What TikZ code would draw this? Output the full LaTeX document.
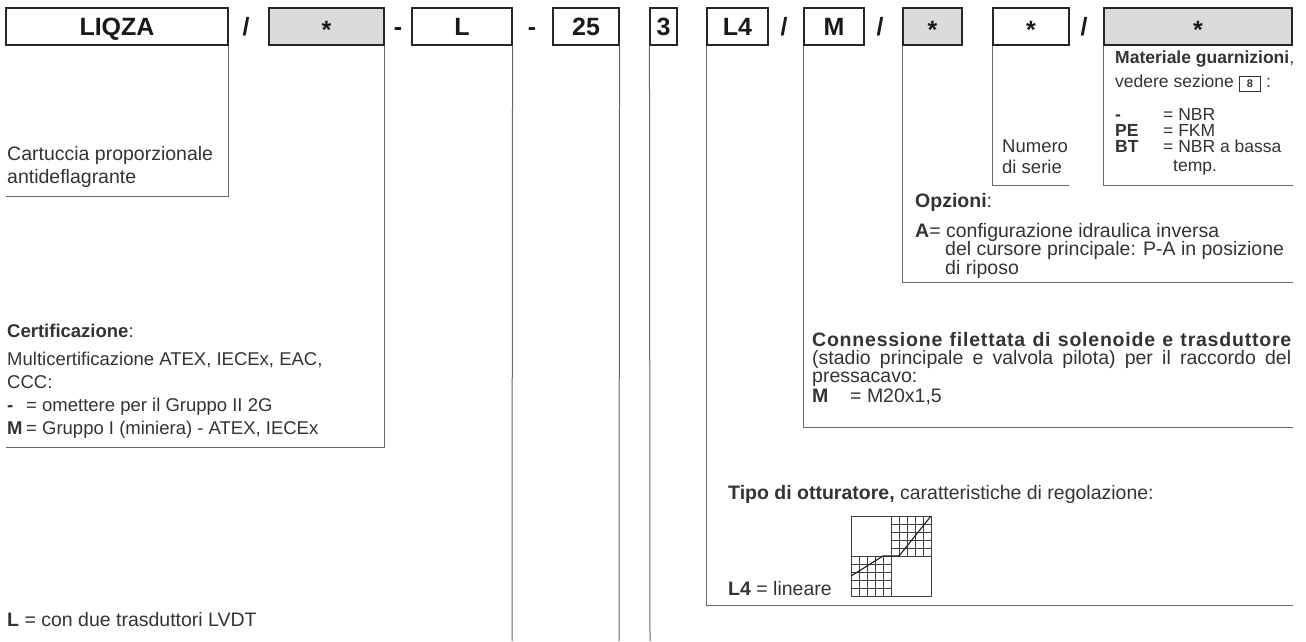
\documentclass[tikz,border=0pt]{standalone}
\usepackage{fontspec}
\setmainfont{Liberation Sans}
\usetikzlibrary{calc}

\begin{document}
\begin{tikzpicture}[
    x=1pt, y=-1pt,
    codebox/.style={rectangle, draw=black!85, line width=1.1pt, minimum height=37pt, inner sep=0pt, text height=17pt, text depth=0pt, font=\fontsize{25}{25}\selectfont\bfseries, text=black!90},
    optbox/.style={codebox, fill=black!14},
    slash/.style={inner sep=0pt, text height=17pt, text depth=0pt, font=\fontsize{25}{25}\selectfont\bfseries, text=black!90},
    leg/.style={draw=black!60, line width=1pt},
    desc/.style={anchor=base west, inner sep=0pt, align=left, text=black!80, font=\fontsize{19.5}{23}\selectfont},
    seal/.style={desc, font=\fontsize{17.5}{16}\selectfont},
    mesh/.style={draw=black!75, line width=0.6pt},
    trace/.style={draw=black!90, line width=1.1pt}
  ]
  \useasboundingbox (0,0) rectangle (1306,641);

  \node[codebox, minimum width=222pt] (liqza) at (117,26.5) {LIQZA};
  \node[slash] (sl1) at (246,26.5) {/};
  \node[optbox, minimum width=115pt] (cert) at (326.5,26.5) {\raisebox{-3pt}{*}};
  \node[slash] (sl2) at (398,26.5) {-};
  \node[codebox, minimum width=100pt] (sense) at (462,26.5) {L};
  \node[slash] (sl3) at (532,26.5) {-};
  \node[codebox, minimum width=66pt] (size) at (586,26.5) {25};
  \node[codebox, minimum width=27pt] (design) at (663.5,26.5) {3};
  \node[codebox, minimum width=61pt] (spool) at (737.5,26.5) {L4};
  \node[slash] (sl4) at (784,26.5) {/};
  \node[codebox, minimum width=60pt] (thread) at (834,26.5) {M};
  \node[slash] (sl5) at (880,26.5) {/};
  \node[optbox, minimum width=59pt] (opts) at (932.5,26.5) {\raisebox{-3pt}{*}};
  \node[codebox, minimum width=76pt] (serial) at (1031,26.5) {\raisebox{-3pt}{*}};
  \node[slash] (sl6) at (1084,26.5) {/};
  \node[optbox, minimum width=188pt] (seals) at (1198,26.5) {\raisebox{-3pt}{*}};

  \coordinate (liqzaEnd) at (6,196);
  \coordinate (certEnd) at (6,447);
  \coordinate (senseEnd) at (512,641);
  \coordinate (sizeEnd) at (619,641);
  \coordinate (designEnd) at (650,641);
  \coordinate (spoolEnd) at (1293,605);
  \coordinate (threadEnd) at (1293,427);
  \coordinate (optsEnd) at (1293,282);
  \coordinate (serialEnd) at (1069,185);
  \coordinate (sealsEnd) at (1293,185);

  \draw[leg] (liqza.south east) |- (liqzaEnd);
  \draw[leg] (cert.south east) |- (certEnd);
  \draw[leg] (sense.south east) -- (senseEnd);
  \draw[leg] (size.south east) -- (sizeEnd);
  \draw[leg] (design.south west) -- (designEnd);
  \draw[leg] (spool.south west) |- (spoolEnd);
  \draw[leg] (thread.south west) |- (threadEnd);
  \draw[leg] (opts.south west) |- (optsEnd);
  \draw[leg] (serial.south west) |- (serialEnd);
  \draw[leg] (seals.south west) |- (sealsEnd);

  \node[desc] (liqzaTxt) at (7,183) {Cartuccia proporzionale\\antideflagrante};
  \node[desc, font=\fontsize{18.5}{23}\selectfont] (certTxt) at (7,434) {\textbf{Certificazione}:\\[5pt]Multicertificazione ATEX, IECEx, EAC,\\CCC:\\\makebox[19pt][l]{\bfseries -}= omettere per il Gruppo II 2G\\\makebox[19pt][l]{\bfseries M}= Gruppo I (miniera) - ATEX, IECEx};
  \node[desc] (senseTxt) at (7,626) {\textbf{L} = con due trasduttori LVDT};

  \node[seal] (sealsTxt) at (1115,171) {\textbf{Materiale guarnizioni},\\[6pt]vedere sezione {\setlength{\fboxsep}{1.2pt}\setlength{\fboxrule}{1pt}\fbox{\makebox[18pt]{\rule[-2.5pt]{0pt}{12pt}\fontsize{11}{11}\selectfont\bfseries 8}}} :\\[15pt]\makebox[48pt][l]{\bfseries -}= NBR\\\makebox[48pt][l]{\bfseries PE}= FKM\\\makebox[48pt][l]{\bfseries BT}= NBR a bassa\\[3pt]\hspace*{58pt}temp.};
  \node[desc, font=\fontsize{18.5}{21}\selectfont] (serialTxt) at (1002,173) {Numero\\di serie};
  \node[desc, font=\fontsize{19.5}{18.5}\selectfont] (optsTxt) at (915,274) {\textbf{Opzioni}:\\[11.5pt]\textbf{A}= configurazione idraulica inversa\\\hspace*{30pt}del cursore principale: P-A in posizione\\\hspace*{30pt}di riposo};
  \node[desc, font=\fontsize{19.5}{18}\selectfont] (threadTxt) at (812,402) {\makebox[479pt][s]{\bfseries\addfontfeature{LetterSpace=4}Connessione filettata di solenoide e trasduttore}\\\makebox[479pt][s]{(stadio principale e valvola pilota) per il raccordo del}\\pressacavo:\\[2pt]\makebox[38pt][l]{\bfseries M}= M20x1,5};
  \node[desc] (spoolTxt) at (728,499) {\textbf{Tipo di otturatore,} caratteristiche di regolazione:};
  \node[desc] (linTxt) at (728,595) {\textbf{L4} = lineare};

  \begin{scope}[shift={(851,596)}, x=8pt, y=8pt]
    \draw[mesh, step=8pt] (0,0) grid (5,5);
    \draw[mesh, step=8pt] (5,5) grid (10,10);
    \draw[mesh] (0,0) rectangle (10,10);
    \draw[trace] (0,2.5) -- (4,5) -- (6,5) -- (10,10);
  \end{scope}
\end{tikzpicture}
\end{document}
